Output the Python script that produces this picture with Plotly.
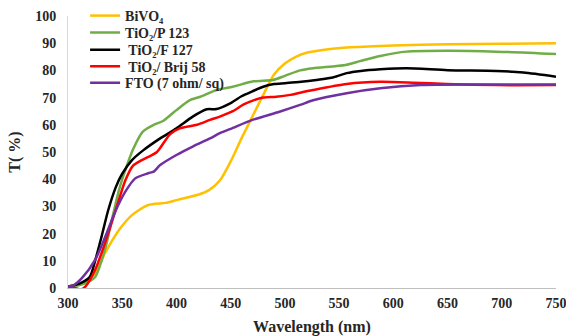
import plotly.graph_objects as go

# Wavelength (nm) and transmittance (%)
wl_bivo4 = [300, 313, 325, 334, 347, 359, 374, 390, 400, 410, 420, 430, 440, 450, 460, 470, 480, 490, 500, 510, 520, 540, 560, 600, 650, 700, 750]
t_bivo4 = [0.5, 1.7, 5.4, 12.7, 21.3, 26.8, 30.5, 31.3, 32.3, 33.3, 34.3, 36, 39.5, 46.5, 55, 63, 71, 78.5, 82.5, 85, 86.5, 87.8, 88.5, 89.2, 89.6, 89.8, 90]

wl_p123 = [300, 310, 320, 325, 334, 341, 347, 353, 360, 369, 379, 388, 400, 412, 422, 437, 452, 471, 489, 500, 514, 526, 556, 570, 588, 612, 650, 695, 750]
t_p123 = [0.5, 1, 2.5, 4, 14, 26, 36, 43.5, 51, 57.5, 60, 61.5, 65.4, 69, 70.3, 72.8, 74, 76, 76.5, 78, 80, 80.8, 82, 83.5, 85.3, 86.9, 87.2, 86.9, 86]

wl_f127 = [300, 310, 320, 325, 331, 337, 344, 350, 359, 369, 385, 400, 415, 428, 437, 450, 460, 470, 480, 490, 500, 515, 529, 545, 557, 570, 588, 612, 650, 695, 720, 750]
t_f127 = [0.5, 1.5, 4, 10, 19, 28.5, 37, 42, 47, 50.5, 55, 58.7, 63, 65.7, 65.8, 68, 70.5, 72.3, 74, 75, 75.3, 75.8, 76.5, 77.5, 79, 79.8, 80.4, 80.8, 80.1, 79.8, 79.2, 77.7]

wl_brij = [300, 306, 312, 316, 325, 334, 344, 353, 360, 368, 373, 382, 394, 403, 419, 431, 440, 452, 462, 471, 480, 492, 505, 514, 526, 557, 588, 618, 649, 695, 750]
t_brij = [0.3, 0, -0.5, 0.5, 6.6, 16.4, 28.7, 39.7, 45, 47, 48, 50, 56.5, 58.7, 60, 61.8, 63, 65, 67.5, 69, 70, 70.3, 71, 71.8, 72.8, 75, 75.8, 75.5, 75, 74.6, 74.6]

wl_fto = [300, 305, 313, 325, 334, 344, 353, 362, 374, 379, 385, 400, 415, 431, 440, 450, 470, 495, 514, 526, 557, 588, 625, 680, 750]
t_fto = [0.5, 1, 3.7, 10.3, 18.5, 28.5, 35.5, 40.3, 42.2, 42.8, 45.2, 48.9, 52, 55, 56.9, 58.5, 61.8, 64.8, 67.3, 69, 71.6, 73.4, 74.6, 74.8, 74.8]

names = ["BiVO₄", "TiO₂/P 123", " TiO₂/F 127", " TiO₂/ Brij 58", "FTO (7 ohm/ sq)"]
colors = ["#FFC000", "#70AD47", "#000000", "#FF0000", "#7030A0"]
xs = [wl_bivo4, wl_p123, wl_f127, wl_brij, wl_fto]
ys = [t_bivo4, t_p123, t_f127, t_brij, t_fto]

font_family = "Liberation Serif"
legend_ids = ["legend", "legend2", "legend3", "legend4", "legend5"]
legend_rows_y = [1.0, 0.938, 0.874, 0.814, 0.753]

fig = go.Figure()
for x, y, n, c, lg in zip(xs, ys, names, colors, legend_ids):
    fig.add_trace(go.Scatter(x=x, y=y, name=n, mode="lines", legend=lg,
                             line=dict(color=c, width=2.5, shape="spline", smoothing=0.7)))

legend_layout = {}
for lg, ly in zip(legend_ids, legend_rows_y):
    legend_layout[lg] = dict(x=0.035, y=ly, xanchor="left", yanchor="middle",
                             bgcolor="rgba(0,0,0,0)",
                             font=dict(size=14, color="#262626", family=font_family, weight="bold"),
                             itemwidth=30)

fig.update_layout(
    width=566, height=336,
    margin=dict(l=68, r=10, t=16, b=48, autoexpand=False),
    paper_bgcolor="white", plot_bgcolor="white",
    font=dict(family=font_family, size=14, color="#262626", weight="bold"),
    showlegend=True,
    xaxis=dict(range=[300, 750], tickvals=[300, 350, 400, 450, 500, 550, 600, 650, 700, 750],
               showgrid=False, zeroline=False, showline=True, linecolor="#BFBFBF", linewidth=1,
               ticks="", ticklabelstandoff=2, automargin=False, ticklabeloverflow="allow",
               title=dict(text="Wavelength (nm)", font=dict(size=16, family=font_family, weight="bold"), standoff=13)),
    yaxis=dict(range=[0, 100], tickvals=[0, 10, 20, 30, 40, 50, 60, 70, 80, 90, 100],
               showgrid=False, zeroline=False, showline=True, linecolor="#D9D9D9", linewidth=1,
               ticks="", ticklabelstandoff=8, automargin=False, ticklabeloverflow="allow",
               title=dict(text="T( %)", font=dict(size=16, family=font_family, weight="bold"), standoff=10)),
    **legend_layout,
)

fig.write_html("out.html")
